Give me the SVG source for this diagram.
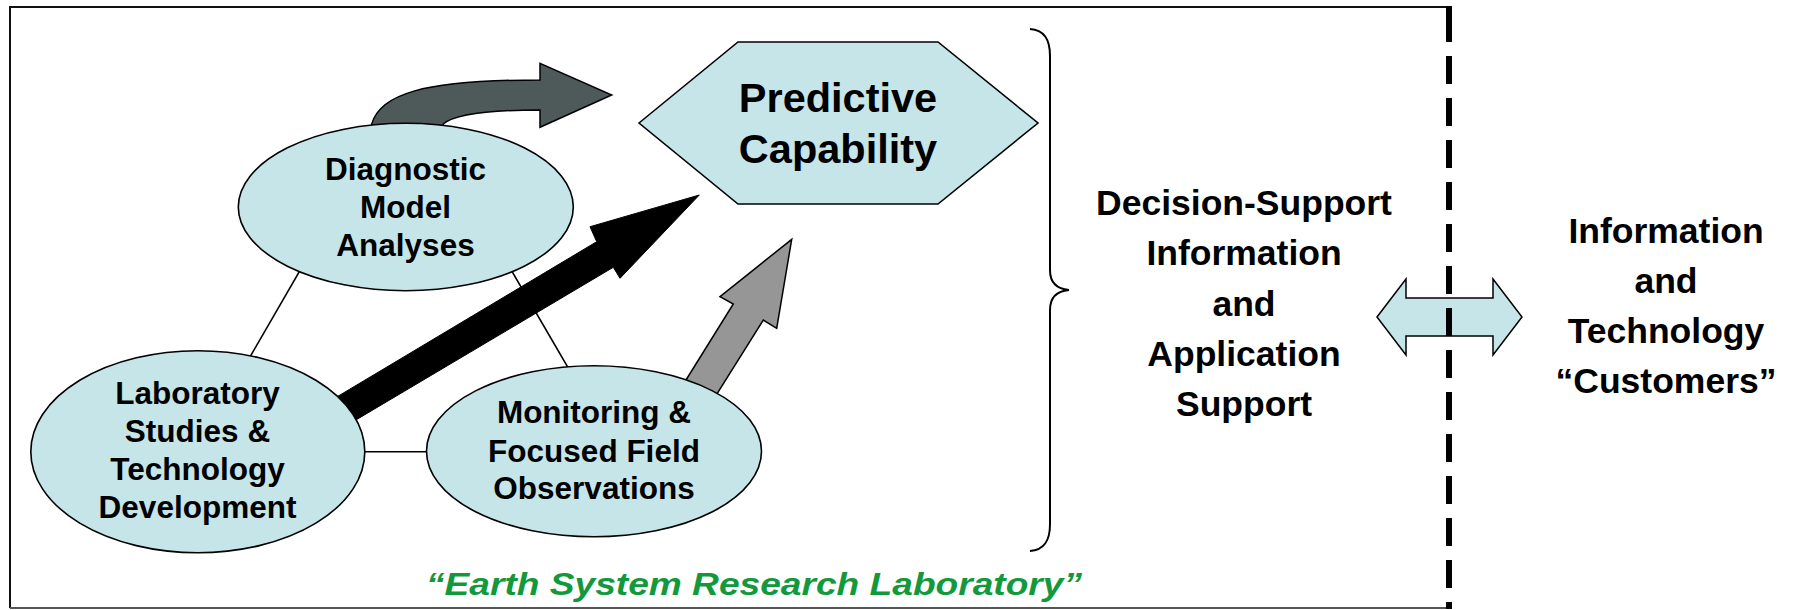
<svg xmlns="http://www.w3.org/2000/svg" width="1794" height="610" viewBox="0 0 1794 610">
  <style>
    .bubble { fill: #c6e5e8; stroke: #000; stroke-width: 1.6; }
    .link { stroke: #000; stroke-width: 1.5; fill: none; }
    .lbl { font-family: "Liberation Sans", Arial, Helvetica, sans-serif; font-weight: bold; fill: #000; text-anchor: middle; }
    .node-txt { font-size: 31.5px; }
    .side-txt { font-size: 35.5px; }
  </style>

  <rect x="0" y="0" width="1794" height="610" fill="#fff"/>

  <!-- laboratory frame: solid top, left and bottom edges -->
  <g id="frame">
    <path d="M1449,7 L10,7 L10,608" fill="none" stroke="#111" stroke-width="2"/>
    <path d="M10,608 L1449,608" fill="none" stroke="#555" stroke-width="2"/>
  </g>

  <!-- curly brace gathering the laboratory activities -->
  <path id="brace" d="M1030,29 C1045,30 1050,40 1050,56 L1050,270 C1050,283 1057,289 1069,290 C1057,291 1050,297 1050,310 L1050,524 C1050,540 1045,550 1030,551" fill="none" stroke="#000" stroke-width="2"/>

  <g id="connectors">
    <!-- thin links between the three activity ellipses -->
    <line class="link" x1="302" y1="267" x2="247" y2="362"/>
    <line class="link" x1="510" y1="268" x2="570" y2="371"/>
    <line class="link" x1="360" y1="451.7" x2="432" y2="451.7"/>

    <!-- curved arrow: diagnostic analyses to predictive capability -->
    <path d="M371,140 L371.7,124 C380,95 420,80 540,80 L540,63.3 L611.7,95 L540,127.3 L540,110 C490,110 455,114 443.3,124 L443.3,140 Z" fill="#4e5a5a" stroke="#000" stroke-width="1.5"/>

    <!-- heavy arrow: laboratory studies to predictive capability -->
    <polygon points="300,418.9 596.7,241.7 590,226.7 699.3,195 620,278.3 613.3,267.3 315.1,444.2" fill="#000" stroke="#000" stroke-width="1"/>

    <!-- grey arrow: monitoring to predictive capability -->
    <polygon points="675.4,397 733.3,304 720,296.7 791.7,239.3 776.7,328.3 763.3,320 707.7,408.7" fill="#969696" stroke="#000" stroke-width="1.5"/>

    <!-- two-way exchange with customers -->
    <polygon points="1377,317 1406,279 1406,298 1493,298 1493,279 1522,317 1493,355 1493,336 1406,336 1406,355" fill="#c6e5e8" stroke="#000" stroke-width="1.5"/>
  </g>

  <g id="node-diagnostic">
    <ellipse class="bubble" cx="405.8" cy="207" rx="167.5" ry="83.7"/>
    <text class="lbl node-txt" x="405.5" y="180">Diagnostic</text>
    <text class="lbl node-txt" x="405.5" y="218">Model</text>
    <text class="lbl node-txt" x="405.5" y="255.5">Analyses</text>
  </g>

  <g id="node-laboratory">
    <ellipse class="bubble" cx="197.8" cy="451.7" rx="167" ry="101"/>
    <text class="lbl node-txt" x="197.5" y="403.5">Laboratory</text>
    <text class="lbl node-txt" x="197.5" y="441.7">Studies &amp;</text>
    <text class="lbl node-txt" x="197.5" y="480">Technology</text>
    <text class="lbl node-txt" x="197.5" y="518.3">Development</text>
  </g>

  <g id="node-monitoring">
    <ellipse class="bubble" cx="594" cy="451.3" rx="167.5" ry="85.5"/>
    <text class="lbl node-txt" x="594" y="423.3">Monitoring &amp;</text>
    <text class="lbl node-txt" x="594" y="461.7">Focused Field</text>
    <text class="lbl node-txt" x="594" y="499.3">Observations</text>
  </g>

  <g id="node-predictive">
    <polygon class="bubble" points="639,123 738,42 938,42 1038,123 938,204 738,204"/>
    <text class="lbl" x="838" y="111.5" font-size="41.5">Predictive</text>
    <text class="lbl" x="838" y="163.3" font-size="41.5">Capability</text>
  </g>

  <g id="node-decision">
    <text class="lbl side-txt" x="1244" y="215">Decision-Support</text>
    <text class="lbl side-txt" x="1244" y="265">Information</text>
    <text class="lbl side-txt" x="1244" y="315.5">and</text>
    <text class="lbl side-txt" x="1244" y="365.5">Application</text>
    <text class="lbl side-txt" x="1244" y="415.5">Support</text>
  </g>

  <g id="node-customers">
    <text class="lbl side-txt" x="1666" y="243">Information</text>
    <text class="lbl side-txt" x="1666" y="293">and</text>
    <text class="lbl side-txt" x="1666" y="343">Technology</text>
    <text class="lbl side-txt" x="1666" y="393">“Customers”</text>
  </g>

  <text id="lab-title" x="426" y="595" font-family="'Liberation Sans', Arial, Helvetica, sans-serif" font-weight="bold" font-style="italic" font-size="31" fill="#12993c" textLength="656" lengthAdjust="spacingAndGlyphs">“Earth System Research Laboratory”</text>

  <!-- dashed organisational boundary, drawn over the exchange arrow -->
  <g id="boundary">
    <line x1="1449" y1="6" x2="1449" y2="14" stroke="#000" stroke-width="6"/>
    <line x1="1449" y1="14" x2="1449" y2="609" stroke="#000" stroke-width="6" stroke-dasharray="28 14"/>
  </g>
</svg>
